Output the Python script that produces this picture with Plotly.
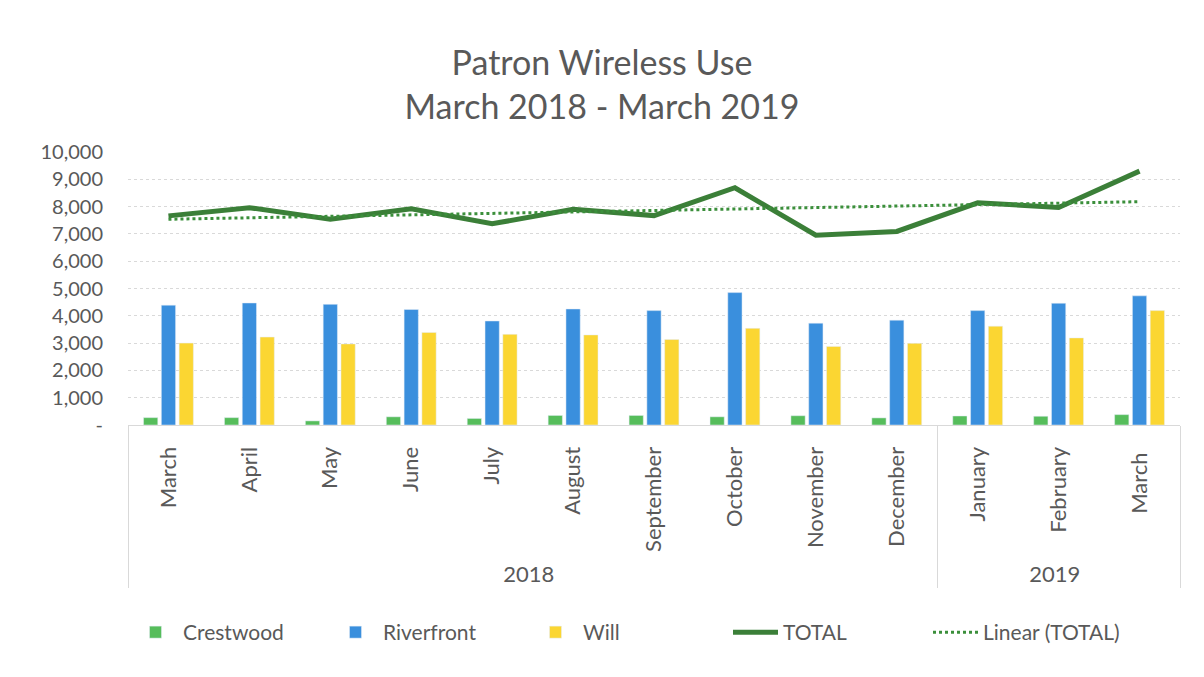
import numpy as np
import plotly.graph_objects as go

# Monthly wireless sessions per branch
years = ["2018"] * 10 + ["2019"] * 3
# the second March carries a trailing space so it stays a separate category
months = ["March", "April", "May", "June", "July", "August", "September",
          "October", "November", "December", "January", "February", "March "]
crestwood = [270, 270, 150, 300, 240, 350, 350, 300, 340, 260, 330, 320, 380]
riverfront = [4390, 4470, 4420, 4230, 3810, 4250, 4190, 4850, 3730, 3840, 4190, 4460, 4730]
will = [3000, 3220, 2970, 3390, 3320, 3300, 3130, 3540, 2880, 2990, 3620, 3190, 4190]

y_ticks = list(range(0, 10001, 1000))
y_labels = ["-"] + [f"{v:,}" for v in y_ticks[1:]]

total = [c + r + w for c, r, w in zip(crestwood, riverfront, will)]
# Least-squares trend of the monthly total
idx = np.arange(len(total))
slope, intercept = np.polyfit(idx, total, 1)
trend = list(slope * idx + intercept)

x = [years, months]
grey = "#595959"
font_family = "Lato, 'Open Sans', sans-serif"

fig = go.Figure()
fig.add_trace(go.Bar(x=x, y=crestwood, name="Crestwood", marker_color="#56bd5b"))
fig.add_trace(go.Bar(x=x, y=riverfront, name="Riverfront", marker_color="#3a8fdd"))
fig.add_trace(go.Bar(x=x, y=will, name="Will", marker_color="#fbd632"))
fig.add_trace(go.Scatter(x=x, y=total, name="TOTAL", mode="lines",
                         line=dict(color="#3b7f38", width=5)))
fig.add_trace(go.Scatter(x=x, y=trend, name="Linear (TOTAL)", mode="lines",
                         line=dict(color="#3b8f3b", width=3, dash="dot")))

fig.update_layout(
    width=1204, height=677,
    margin=dict(l=128, r=24, t=152, b=252),
    paper_bgcolor="white", plot_bgcolor="white",
    font=dict(family=font_family, color=grey, size=20),
    title=dict(text="Patron Wireless Use<br>March 2018 - March 2019",
               x=0.5, xanchor="center", y=0.889, yanchor="middle",
               font=dict(size=34, color=grey, family=font_family)),
    barmode="group", bargap=0.34, bargroupgap=0.2,
    legend=dict(orientation="h", x=0.0, xanchor="left", y=-0.76, yanchor="middle",
                font=dict(size=21, color=grey), itemwidth=45,
                entrywidth=140, traceorder="normal"),
    showlegend=True,
)
fig.update_xaxes(type="multicategory", tickangle=-90, showdividers=True,
                 dividercolor="#d9d9d9", dividerwidth=1,
                 showline=True, linecolor="#d9d9d9", linewidth=1,
                 ticklabelstandoff=12,
                 tickfont=dict(size=22, color=grey), automargin=False)
fig.update_yaxes(range=[0, 10000], tickvals=y_ticks, ticktext=y_labels,
                 showgrid=True, gridcolor="#d9d9d9", griddash="dot", gridwidth=1,
                 zeroline=False, tickfont=dict(size=20, color=grey),
                 ticklabelstandoff=24, automargin=False)

fig.write_html("out.html")
